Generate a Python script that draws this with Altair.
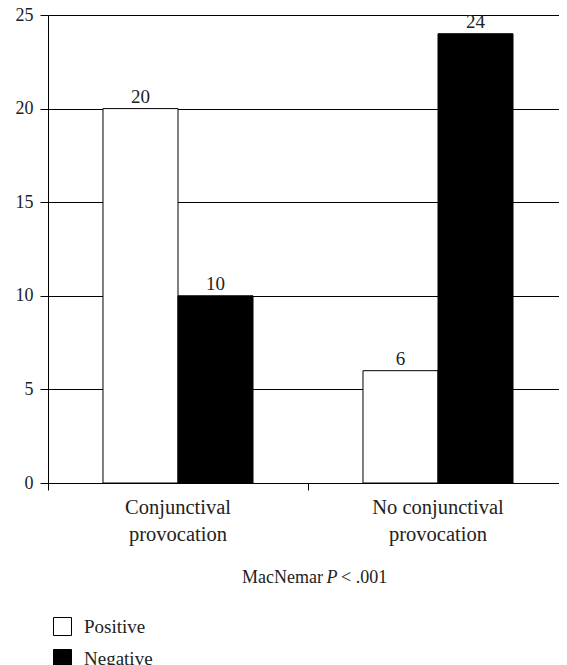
import altair as alt
import pandas as pd

groups = ["Conjunctival|provocation", "No conjunctival|provocation"]
series = ["Positive", "Negative"]
positive = [20, 6]
negative = [10, 24]

rows = []
for i, g in enumerate(groups):
    rows.append({"group": g, "result": "Positive", "count": positive[i]})
    rows.append({"group": g, "result": "Negative", "count": negative[i]})
df = pd.DataFrame(rows)

FONT = "Liberation Serif, DejaVu Serif, serif"
INK = "#222222"

x_enc = alt.X(
    "group:N",
    sort=groups,
    scale=alt.Scale(range=[0, 520], paddingInner=0, paddingOuter=0),
    axis=alt.Axis(
        title=None,
        labelAngle=0,
        bandPosition=0,
        labelExpr="split(datum.label, '|')",
        labelFont=FONT,
        labelFontSize=20.5,
        labelColor=INK,
        labelLineHeight=27,
        labelPadding=7,
        tickSize=7,
        tickColor="black",
        domain=True,
        domainColor="black",
        grid=False,
    ),
)
xo_enc = alt.XOffset(
    "result:N",
    sort=series,
    scale=alt.Scale(paddingInner=0, paddingOuter=0.733),
)
y_enc = alt.Y(
    "count:Q",
    scale=alt.Scale(domain=[0, 25], nice=False),
    axis=alt.Axis(
        title=None,
        values=[0, 5, 10, 15, 20, 25],
        grid=True,
        gridColor="black",
        gridOpacity=1,
        gridWidth=1,
        domainColor="black",
        tickColor="black",
        tickSize=8,
        labelPadding=7,
        labelFont=FONT,
        labelFontSize=18,
        labelColor=INK,
    ),
)

bars = alt.Chart(df).mark_bar(stroke="black", strokeWidth=1).encode(
    x=x_enc,
    xOffset=xo_enc,
    y=y_enc,
    color=alt.Color(
        "result:N",
        sort=series,
        scale=alt.Scale(domain=series, range=["white", "black"]),
        legend=alt.Legend(
            title=None,
            orient="none",
            legendX=5,
            legendY=602,
            symbolType="square",
            symbolSize=324,
            symbolStrokeColor="black",
            symbolStrokeWidth=1,
            labelFont=FONT,
            labelFontSize=19,
            labelColor=INK,
            labelOffset=12,
            rowPadding=9,
            padding=0,
        ),
    ),
)

labels = alt.Chart(df).mark_text(
    font=FONT, fontSize=19, color=INK, baseline="bottom", dy=-2
).encode(
    x=alt.X("group:N", sort=groups),
    xOffset=alt.XOffset("result:N", sort=series),
    y="count:Q",
    text="count:Q",
)

t1 = alt.Chart(pd.DataFrame({"t": ["MacNemar"]})).mark_text(
    font=FONT, fontSize=18, color=INK, align="right", baseline="alphabetic"
).encode(x=alt.value(275), y=alt.value(568), text="t:N")
t2 = alt.Chart(pd.DataFrame({"t": ["P"]})).mark_text(
    font=FONT, fontSize=18, color=INK, align="center", baseline="alphabetic",
    fontStyle="italic",
).encode(x=alt.value(284), y=alt.value(568), text="t:N")
t3 = alt.Chart(pd.DataFrame({"t": ["< .001"]})).mark_text(
    font=FONT, fontSize=18, color=INK, align="left", baseline="alphabetic"
).encode(x=alt.value(293), y=alt.value(568), text="t:N")

chart = alt.layer(bars, labels, t1, t2, t3).properties(
    width=511,
    height=468,
    autosize=alt.AutoSizeParams(type="none"),
    padding={"left": 40, "top": 7, "right": 0, "bottom": 182},
).configure_view(stroke=None).configure(background="white")

chart.save("out.html", embed_options={"renderer": "svg", "actions": False})
